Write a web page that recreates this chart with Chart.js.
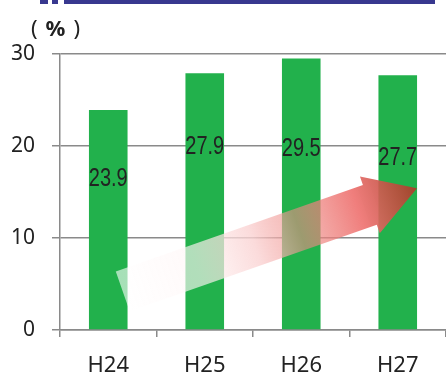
<!DOCTYPE html>
<html>
<head>
<meta charset="utf-8">
<script src="https://cdn.jsdelivr.net/npm/chart.js@4.4.1/dist/chart.umd.min.js"></script>
<style>
  body { margin: 0; background: #fff; }
  #wrap { position: relative; width: 446px; height: 372px; overflow: hidden; }
  .band { position: absolute; top: 0; height: 4px; background: #38388f; }
  #unit {
    position: absolute; left: 31px; top: 13px; white-space: nowrap;
    font-family: "Noto Sans", sans-serif; font-size: 22px; color: #222; line-height: 28px;
  }
  #unit b { font-size: 22px; margin: 0 8px 0 8px; }
</style>
</head>
<body>
<div id="wrap">
  <div class="band" style="left:40px;width:8px"></div>
  <div class="band" style="left:52px;width:6px"></div>
  <div class="band" style="left:64px;width:371px"></div>
  <div id="unit">(<b>%</b>)</div>
  <canvas id="chart" width="446" height="372"></canvas>
</div>
<script>
const categories = ['H24', 'H25', 'H26', 'H27'];
const rates = [23.9, 27.9, 29.5, 27.7];
const yTicks = [0, 10, 20, 30];

const GREEN = '#22b14c';
const AXIS = '#8a8a8a';

// --- arrow + value labels drawn over the bars ---
const overlay = {
  id: 'overlay',
  afterDatasetsDraw(chart, args, opts) {
    const { ctx, scales: { x, y } } = chart;

    // gradient arrow, anchored in data space
    const x0 = x.getPixelForValue(opts.arrowFrom[0]), y0 = y.getPixelForValue(opts.arrowFrom[1]);
    const x1 = x.getPixelForValue(opts.arrowTo[0]), y1 = y.getPixelForValue(opts.arrowTo[1]);
    const len = Math.hypot(x1 - x0, y1 - y0);
    const ang = Math.atan2(y1 - y0, x1 - x0);
    ctx.save();
    ctx.translate(x0, y0);
    ctx.rotate(ang);
    const g = ctx.createLinearGradient(0, 0, len, 0);
    g.addColorStop(0, 'rgba(255,255,255,0.6)');
    g.addColorStop(0.25, 'rgba(255,246,246,0.65)');
    g.addColorStop(0.45, 'rgba(250,210,210,0.8)');
    g.addColorStop(0.6, 'rgba(238,140,135,0.6)');
    g.addColorStop(0.8, 'rgba(238,112,110,0.9)');
    g.addColorStop(1, 'rgba(170,60,40,0.92)');
    const hw = 21, hl = 50, hh = 30;
    ctx.beginPath();
    ctx.moveTo(0, -hw);
    ctx.lineTo(len - hl, -hw);
    ctx.lineTo(len - hl, -hh);
    ctx.lineTo(len, 0);
    ctx.lineTo(len - hl, hh);
    ctx.lineTo(len - hl, hw);
    ctx.lineTo(0, hw);
    ctx.closePath();
    ctx.fillStyle = g;
    ctx.fill();
    ctx.restore();

    // value labels (slightly tall, like the original)
    const meta = chart.getDatasetMeta(0);
    ctx.save();
    ctx.fillStyle = '#222';
    ctx.font = '20px "Liberation Sans", Arial, sans-serif';
    ctx.textAlign = 'center';
    ctx.textBaseline = 'middle';
    meta.data.forEach((bar, i) => {
      const cy = bar.y + opts.labelDrop[i];
      ctx.save();
      ctx.translate(bar.x, cy);
      ctx.scale(1, 1.25);
      ctx.fillText(rates[i].toFixed(1), 0, 0);
      ctx.restore();
    });
    ctx.restore();
  }
};

new Chart(document.getElementById('chart'), {
  type: 'bar',
  data: {
    labels: categories,
    datasets: [{
      data: rates,
      backgroundColor: GREEN,
      borderWidth: 0,
      barPercentage: 0.4,
      categoryPercentage: 1
    }]
  },
  options: {
    responsive: false,
    animation: false,
    layout: { padding: { top: 54, right: 0, left: 0, bottom: 0 } },
    plugins: {
      legend: { display: false },
      tooltip: { enabled: false },
      overlay: {
        arrowFrom: [0.15, 4.2],
        arrowTo: [3.2, 15.4],
        labelDrop: [69, 74, 91, 83]
      }
    },
    scales: {
      x: {
        afterFit(s) { s.height = 42; },
        grid: { drawOnChartArea: false, drawTicks: true, tickLength: 7, color: AXIS, lineWidth: 1.5, offset: true },
        border: { color: AXIS, width: 1.5 },
        ticks: { color: '#222', font: { family: 'Noto Sans', size: 22 }, padding: 16 }
      },
      y: {
        min: 0,
        max: 30,
        afterFit(s) { s.width = 60; },
        afterBuildTicks(s) { s.ticks = yTicks.map(v => ({ value: v })); },
        grid: { color: AXIS, lineWidth: 1.5, tickLength: 8 },
        border: { color: AXIS, width: 1.5 },
        ticks: { color: '#222', font: { family: 'Noto Sans', size: 21 }, padding: 17 }
      }
    }
  },
  plugins: [overlay]
});
</script>
</body>
</html>
